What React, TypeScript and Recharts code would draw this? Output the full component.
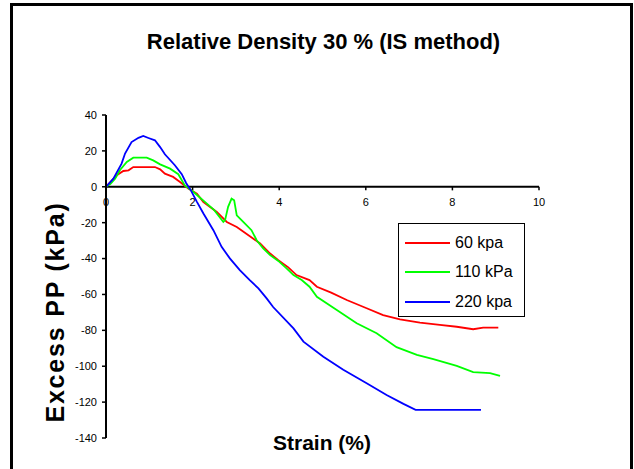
import { LineChart, Line, XAxis, YAxis, ReferenceLine, Legend } from 'recharts';

// strain (%) vs excess pore pressure (kPa)
const strain60 = [0, 0.25, 0.4, 0.52, 0.63, 0.9, 1.13, 1.25, 1.36, 1.55, 1.71, 1.9, 2.1, 2.25, 2.56, 2.79, 3.02, 3.29, 3.56, 3.79, 3.98, 4.21, 4.4, 4.7, 4.87, 5.2, 5.56, 6.02, 6.4, 6.79, 7.25, 7.71, 8.1, 8.48, 8.71, 9.06];
const pp60 = [0, 6.4, 8.8, 9.2, 11, 11, 11, 9.7, 7.3, 5.5, 2.7, -1, -3.8, -8.5, -14, -19.6, -22.4, -27, -31.6, -37.2, -40.9, -44.9, -49.2, -52, -55.7, -59, -63.1, -67.7, -71.5, -73.9, -75.7, -77, -78, -79.4, -78.5, -78.5];

const strain110 = [0, 0.1, 0.21, 0.32, 0.48, 0.63, 0.94, 1.09, 1.25, 1.48, 1.67, 1.82, 2.02, 2.33, 2.5, 2.71, 2.75, 2.82, 2.9, 2.96, 3.02, 3.17, 3.36, 3.48, 3.63, 3.79, 3.98, 4.17, 4.33, 4.52, 4.7, 4.87, 5.33, 5.79, 6.25, 6.71, 7.18, 7.56, 8.1, 8.48, 8.87, 9.1];
const pp110 = [0, 1.5, 4.5, 9.2, 13.8, 16.2, 16.2, 14.7, 12.5, 10.1, 7, 0.8, -2.9, -9.4, -13, -19.6, -18.6, -11.2, -6.6, -7.5, -15.9, -19.6, -24.2, -29.8, -34.4, -38.1, -41.3, -45.5, -49.2, -52, -55.7, -61.3, -68.7, -76.1, -81.6, -89.4, -93.7, -96.1, -99.8, -103.3, -103.9, -105.4];

const strain220 = [0, 0.17, 0.36, 0.44, 0.59, 0.75, 0.86, 0.98, 1.13, 1.25, 1.36, 1.59, 1.75, 1.85, 1.96, 2.1, 2.25, 2.48, 2.67, 2.86, 3.09, 3.32, 3.52, 3.71, 3.86, 4.33, 4.56, 5.02, 5.48, 6.02, 6.48, 6.87, 7.15, 8.66];
const pp220 = [0, 4.5, 12.9, 18.5, 24.9, 27.3, 28.3, 27.2, 25.9, 22.1, 18.1, 12, 7, 2.1, -2, -8.4, -14.9, -24.2, -33.5, -39.9, -46.4, -52, -56.6, -62.2, -67, -78.9, -86.3, -94.7, -102, -109.5, -116, -121, -124.3, -124.3];

const xTicks = [0, 2, 4, 6, 8, 10];
const yTicks = [40, 20, 0, -20, -40, -60, -80, -100, -120, -140];

const seriesNames = ['60 kpa', '110 kPa', '220 kpa'];
const seriesColors = ['#ff0000', '#00ff00', '#0000ff'];

const FONT = 'Arial, "Liberation Sans", sans-serif';

const toPoints = (xs: number[], ys: number[]) => xs.map((x, i) => ({ x, y: ys[i] }));

const series = [
  toPoints(strain60, pp60),
  toPoints(strain110, pp110),
  toPoints(strain220, pp220),
];

// legend keeps the series order (recharts would sort it by name)
function LegendBox() {
  return (
    <div
      style={{
        width: 127,
        height: 94,
        boxSizing: 'border-box',
        border: '1.5px solid #000',
        background: '#fff',
        fontFamily: FONT,
        fontSize: 16,
        color: '#000',
        paddingTop: 4,
      }}
    >
      {seriesNames.map((name, i) => (
        <div key={name} style={{ display: 'flex', alignItems: 'center', height: 29.5 }}>
          <div style={{ width: 45, height: 2, background: seriesColors[i], marginLeft: 6, marginRight: 5 }} />
          <span>{name}</span>
        </div>
      ))}
    </div>
  );
}

const labelStyle = {
  position: 'absolute' as const,
  textAlign: 'center' as const,
  fontFamily: FONT,
  fontWeight: 'bold' as const,
  lineHeight: '26px',
  whiteSpace: 'nowrap' as const,
};

export default function App() {
  return (
    <div style={{ position: 'absolute', left: 0, top: 0, width: 634, height: 469, background: '#fff', overflow: 'hidden' }}>
      {/* outer frame, open at the bottom */}
      <div
        style={{
          position: 'absolute',
          left: 10,
          top: 3,
          width: 623,
          height: 480,
          boxSizing: 'border-box',
          borderLeft: '3px solid #000',
          borderTop: '3px solid #000',
          borderRight: '3px solid #000',
        }}
      />
      <div style={{ ...labelStyle, left: 0, top: 29, width: 647, fontSize: 22 }}>
        Relative Density 30 % (IS method)
      </div>
      <div style={{ ...labelStyle, left: 0, top: 430, width: 644, fontSize: 21 }}>
        Strain (%)
      </div>
      <div
        style={{
          ...labelStyle,
          left: 55 - 150,
          top: 312 - 13,
          width: 300,
          height: 26,
          fontSize: 25,
          letterSpacing: 1.8,
          transform: 'rotate(-90deg)',
        }}
      >
        Excess PP (kPa)
      </div>

      <div style={{ position: 'absolute', left: 0, top: 0 }}>
        <LineChart width={634} height={469} margin={{ top: 115, right: 95, bottom: 31, left: 56 }}>
          <XAxis type="number" dataKey="x" domain={[0, 10]} ticks={xTicks} hide allowDataOverflow />
          <YAxis
            type="number"
            domain={[-140, 40]}
            ticks={yTicks}
            width={50}
            interval={0}
            tickSize={4}
            tickMargin={5}
            axisLine={{ stroke: '#000', strokeWidth: 2 }}
            tickLine={{ stroke: '#000', strokeWidth: 1.5 }}
            tick={{ fill: '#000', fontSize: 11, fontFamily: FONT }}
          />
          <ReferenceLine y={0} stroke="#000" strokeWidth={2} />
          {xTicks.map((t) => (
            <ReferenceLine
              key={t}
              segment={[{ x: t, y: 0 }, { x: t, y: -2 }]}
              stroke="#000"
              strokeWidth={1.5}
              label={{ value: String(t), position: 'bottom', offset: 8, fill: '#000', fontSize: 11, fontFamily: FONT }}
            />
          ))}
          {series.map((d, i) => (
            <Line
              key={seriesNames[i]}
              data={d}
              dataKey="y"
              name={seriesNames[i]}
              type="linear"
              stroke={seriesColors[i]}
              strokeWidth={1.8}
              dot={false}
              isAnimationActive={false}
            />
          ))}
          <Legend
            layout="vertical"
            align="center"
            verticalAlign="middle"
            wrapperStyle={{ left: 398, top: 223, width: 127, height: 94 }}
            content={LegendBox}
          />
        </LineChart>
      </div>
    </div>
  );
}
